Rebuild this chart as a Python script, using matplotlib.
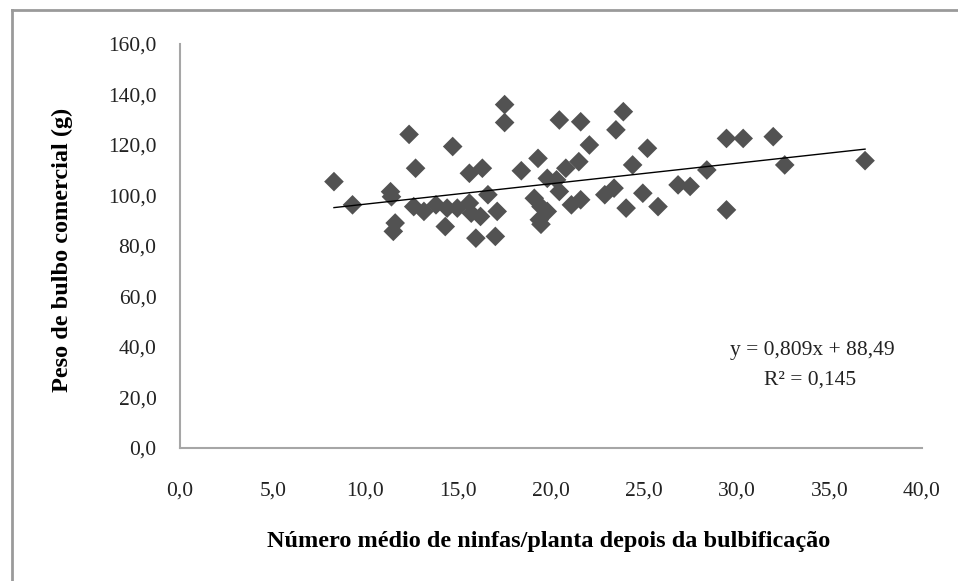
import matplotlib
matplotlib.use('Agg')
import matplotlib.pyplot as plt
from matplotlib.ticker import FuncFormatter
from matplotlib.lines import Line2D

# nymphs per plant (x) vs commercial bulb weight (y)
ninfas = [8.3, 9.3, 11.35, 11.4, 11.6, 11.5, 12.35, 12.7, 12.6, 13.15,
          13.8, 14.3, 14.4, 14.7, 14.95, 15.6, 15.6, 15.7, 15.95, 16.2,
          16.3, 16.6, 17.0, 17.1, 17.5, 17.5, 18.4, 19.1, 19.3, 19.46,
          19.8, 19.37, 19.46, 19.8, 20.3, 20.45, 20.45, 20.8, 21.1, 21.6,
          21.5, 21.6, 22.07, 22.9, 23.4, 23.5, 23.9, 24.05, 24.4, 24.95,
          25.2, 25.77, 26.85, 27.5, 28.4, 29.46, 30.36, 29.46, 31.98, 32.6,
          36.93]
peso = [105.5, 96.3, 101.5, 99.5, 89.1, 85.8, 124.2, 110.8, 95.6, 93.7,
        96.3, 87.7, 95.0, 119.4, 95.0, 108.8, 97.0, 93.0, 83.1, 91.7,
        110.8, 100.3, 83.8, 93.7, 136.0, 128.9, 109.8, 98.9, 114.7, 95.6,
        93.7, 90.4, 88.6, 106.8, 106.2, 101.6, 129.9, 110.8, 96.3, 98.3,
        113.4, 129.2, 120.0, 100.3, 102.9, 126.0, 133.2, 95.0, 112.1, 100.9,
        118.7, 95.6, 104.2, 103.6, 110.1, 122.6, 122.6, 94.3, 123.3, 112.1,
        113.8]

# trendline as reported on the chart
slope = 0.809
intercept = 88.49
r2 = 0.145

xticks = [0, 5, 10, 15, 20, 25, 30, 35, 40]
yticks = [0, 20, 40, 60, 80, 100, 120, 140, 160]

plt.rcParams['font.family'] = ['Liberation Serif', 'DejaVu Serif']

W, H = 958, 581
fig = plt.figure(figsize=(W / 100, H / 100), dpi=100)
ax = fig.add_axes([180 / W, 1 - 448 / H, 742 / W, 404 / H])

ax.scatter(ninfas, peso, marker='D', s=100, color='#525252', edgecolors='none', zorder=3)

xl = [min(ninfas), max(ninfas)]
ax.plot(xl, [slope * v + intercept for v in xl], color='black', lw=1.0, zorder=4)

ax.set_xlim(0, 40)
ax.set_ylim(0, 160)
ax.set_xticks(xticks)
ax.set_yticks(yticks)
fmt = FuncFormatter(lambda v, p: f'{v:.1f}'.replace('.', ','))
ax.xaxis.set_major_formatter(fmt)
ax.yaxis.set_major_formatter(fmt)
ax.tick_params(length=0, labelsize=15.5, colors='#222222')
ax.tick_params(axis='x', pad=24)
ax.tick_params(axis='y', pad=17)

for s in ['top', 'right']:
    ax.spines[s].set_visible(False)
for s in ['left', 'bottom']:
    ax.spines[s].set_color('#a6a6a6')
    ax.spines[s].set_linewidth(1.5)

ax.set_xlabel('Número médio de ninfas/planta depois da bulbificação',
              fontsize=17.5, fontweight='bold')
ax.set_ylabel('Peso de bulbo comercial (g)', fontsize=17.5, fontweight='bold')
# label centres in pixels: x title (549, 541), y title (62, 250)
ax.xaxis.set_label_coords((549 - 180) / 742, (448 - 541) / 404)
ax.yaxis.set_label_coords((62 - 180) / 742, (448 - 250) / 404)
ax.xaxis.label.set_va('center')
ax.yaxis.label.set_va('center')

eq = f'y = {slope:.3f}x + {intercept:.2f}'.replace('.', ',')
r2txt = f'R² = {r2:.3f}'.replace('.', ',')
fig.text(812 / W, 1 - 350 / H, eq, fontsize=15.5, ha='center', va='center', color='#222222')
fig.text(810 / W, 1 - 380 / H, r2txt, fontsize=15.5, ha='center', va='center', color='#222222')

# outer chart frame (only top and left visible)
fig.add_artist(Line2D([12 / W, 12 / W], [0, 1 - 10 / H], transform=fig.transFigure,
                      color='#9a9a9a', lw=2))
fig.add_artist(Line2D([12 / W, 1], [1 - 10 / H, 1 - 10 / H], transform=fig.transFigure,
                      color='#9a9a9a', lw=2))

fig.savefig('out.png', dpi=100)
